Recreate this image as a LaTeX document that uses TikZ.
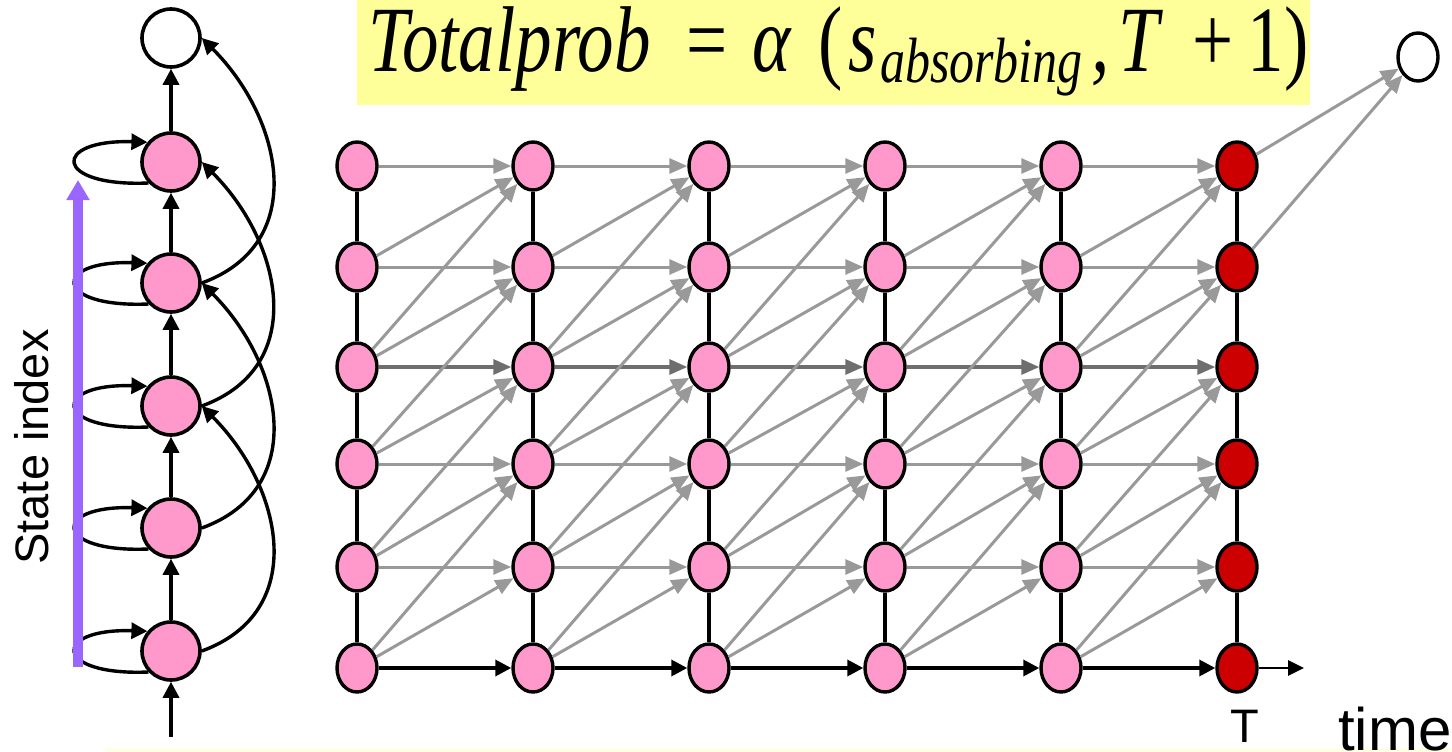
\documentclass[tikz,border=0pt]{standalone}
\usepackage{fontspec}
\setmainfont{Liberation Sans}
\newfontfamily\tfont{Liberation Serif}
\usetikzlibrary{arrows.meta,shapes.geometric}
\definecolor{pinkfill}{HTML}{FF99CC}
\definecolor{redfill}{HTML}{CC0000}
\definecolor{arrgray}{HTML}{999999}
\definecolor{midgray}{HTML}{6E6E6E}
\definecolor{purp}{HTML}{9966FF}
\definecolor{yel}{HTML}{FFFF99}
\definecolor{paleyel}{HTML}{FFFFE4}
\begin{document}
\begin{tikzpicture}[x=1pt,y=-1pt,
  chainnode/.style={circle,draw,line width=3.6pt,fill=pinkfill,minimum size=58pt,inner sep=0pt},
  trel/.style={ellipse,draw,line width=3.4pt,fill=pinkfill,minimum width=40pt,minimum height=48pt,inner sep=0pt},
  blk/.style={line width=3.4pt,-{Triangle[length=16pt,width=16pt]}},
  gry/.style={draw=arrgray,line width=3pt,-{Triangle[length=18pt,width=15pt]}},
  dgry/.style={draw=midgray,line width=3.2pt,-{Triangle[length=18pt,width=15pt]}},
  vline/.style={line width=3.4pt},
  loopline/.style={line width=3.4pt,-{Triangle[length=16pt,width=16pt]}}]
\useasboundingbox (0,0) rectangle (1452,752);
% pale strip at bottom
\fill[paleyel] (105,748) rectangle (1452,752);
% formula box
\fill[yel] (357,0) rectangle (1310,105);
\node[anchor=base west,inner sep=0pt] (formula) at (368,72)
  {\scalebox{1}[1.28]{\tfont\itshape\fontsize{73}{80}\selectfont
   Totalprob\hspace{36pt}{\upshape=}\hspace{24pt}α\hspace{28pt}{\upshape(}\hspace{6pt}s\hspace{3pt}\raisebox{-8pt}{\fontsize{50}{54}\selectfont absorbing}\hspace{9pt},\hspace{8pt}T\hspace{34pt}{\upshape+}\hspace{14pt}{\upshape 1)}}};
% ---------------- left chain ----------------
\node[chainnode] (c0) at (171,651) {};
\node[chainnode] (c1) at (171,528) {};
\node[chainnode] (c2) at (171,406) {};
\node[chainnode] (c3) at (171,283) {};
\node[chainnode] (c4) at (171,162) {};
\node[chainnode,fill=white] (c5) at (171,38) {};
\coordinate (cin) at (171,737);
\draw[blk] (cin) -- (c0);
\foreach \a/\b in {c0/c1,c1/c2,c2/c3,c3/c4,c4/c5}{
  \draw[blk] (\a) -- (\b);
}
\foreach \a in {c0,c1,c2,c3,c4}{
  \draw[loopline] (\a.-137) .. controls +(-96,4) and +(-96,-3) .. (\a.140);
}
\foreach \a/\b in {c0/c2,c1/c3,c2/c4,c3/c5}{
  \draw[blk] (\a.east) to[out=20,in=-45,looseness=1.2] (\b.east);
}
% purple state index arrow
\coordinate (pbot) at (78,667);
\coordinate (ptop) at (78,180);
\draw[purp,line width=10pt,-{Triangle[length=20pt,width=22pt]}] (pbot) -- (ptop);
\node[rotate=90,anchor=base,inner sep=0pt,font=\fontsize{47}{50}\selectfont] (statelab) at (48,447) {State index};
% ---------------- trellis ----------------
\foreach \i/\x in {1/357,2/533,3/709,4/885,5/1061}{
  \foreach \r/\y in {1/166,2/267,3/367,4/464,5/567,6/668}{
    \node[trel] (n\i\r) at (\x,\y) {};
  }
}
\foreach \r/\y in {1/166,2/267,3/367,4/464,5/567,6/668}{
  \node[trel,fill=redfill] (n6\r) at (1237,\y) {};
}
\node[trel,fill=white] (absn) at (1418,57) {};
% vertical lines
\foreach \i in {1,...,6}{
  \foreach \r in {1,...,5}{
    \pgfmathtruncatemacro{\s}{\r+1}
    \draw[vline] (n\i\r) -- (n\i\s);
  }
}
% transitions
\foreach \i in {1,...,5}{
  \pgfmathtruncatemacro{\j}{\i+1}
  \foreach \r in {1,2,4,5}{
    \draw[gry] (n\i\r) -- (n\j\r);
  }
  \draw[dgry] (n\i3) -- (n\j3);
  \draw[blk] (n\i6) -- (n\j6);
  \foreach \r in {2,...,6}{
    \pgfmathtruncatemacro{\ra}{\r-1}
    \draw[gry] (n\i\r) -- (n\j\ra);
  }
  \foreach \r in {3,...,6}{
    \pgfmathtruncatemacro{\rb}{\r-2}
    \draw[gry] (n\i\r) -- (n\j\rb);
  }
}
\draw[gry] (n61) -- (absn);
\draw[gry] (n62) -- (absn);
\coordinate (tend) at (1304,668);
\draw[line width=2.8pt,-{Triangle[length=16pt,width=15pt]}] (n66) -- (tend);
\node[anchor=base,inner sep=0pt,font=\fontsize{47}{50}\selectfont] (tlab) at (1245,742) {T};
\node[anchor=base west,inner sep=0pt,font=\fontsize{60}{64}\selectfont] (timelab) at (1338,750) {time};
\end{tikzpicture}
\end{document}
